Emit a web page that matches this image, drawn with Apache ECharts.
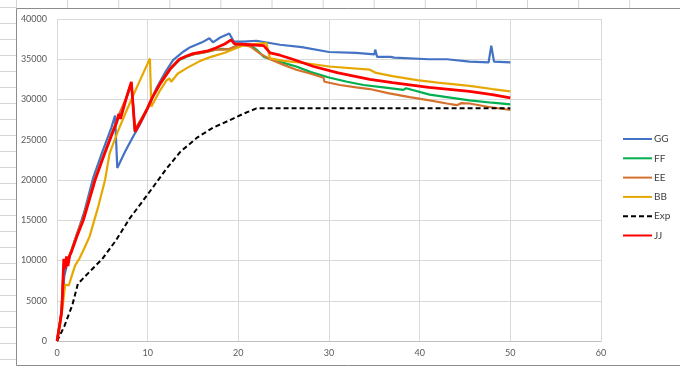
<!DOCTYPE html>
<html><head><meta charset="utf-8">
<script src="https://cdn.jsdelivr.net/npm/echarts@6/dist/echarts.min.js"></script>
<style>html,body{margin:0;padding:0;background:#fff}#c{width:680px;height:367px}</style>
</head><body><div id="c"></div>
<script>
const seriesNames = ["GG","FF","EE","BB","Exp","JJ"];
const xTicks = [0,10,20,30,40,50,60];
const yTicks = [0,5000,10000,15000,20000,25000,30000,35000,40000];

const GG = [[0,0],[0.5,3500],[0.8,8000],[1.2,10000],[2,12600],[3,16000],[4,20300],[5,23500],[6,26500],[6.4,28000],[6.65,21500],[7.5,23500],[8.4,25400],[9.2,27000],[10,28900],[11,31500],[12,33500],[12.8,34900],[14,36000],[14.7,36500],[16,37100],[16.8,37600],[17.2,37100],[18,37700],[19,38200],[19.2,38000],[19.5,37200],[20.5,37200],[22,37300],[24.6,36800],[27,36500],[30,35900],[33,35800],[35,35600],[35.1,36200],[35.3,35300],[36.8,35300],[37,35500],[37.2,35200],[41,35000],[43,35000],[45.5,34700],[47.6,34600],[47.9,36700],[48.2,34700],[50,34600]];
const FF = [[0,0],[0.3,2100],[0.5,3600],[0.7,8500],[0.9,9800],[1.2,10000],[1.6,11200],[2.2,13200],[2.9,15200],[3.5,17500],[4.2,20100],[5,22600],[6,25600],[6.6,27300],[6.9,28000],[7.6,30000],[8.2,32000],[8.6,26100],[9.2,27300],[9.9,28700],[10.5,30200],[11.4,32000],[12.5,33800],[13.5,34900],[14.3,35300],[15,35600],[16.5,35900],[17.5,36200],[18.3,36300],[19,36200],[20.2,36900],[21.3,36800],[22,36200],[22.8,35300],[24.5,34700],[26.4,34100],[28,33400],[30.1,32700],[32,32200],[33.8,31800],[36,31500],[38.2,31200],[38.5,31400],[41.1,30600],[43,30300],[45.5,29900],[48,29600],[50,29400]];
const EE = [[0,0],[0.3,2200],[0.5,3700],[0.7,8600],[0.9,9900],[1.2,10100],[1.6,11300],[2.2,13300],[2.9,15300],[3.5,17600],[4.2,20200],[5,22700],[6,25700],[6.6,27400],[6.9,28300],[7.6,30100],[8.2,32100],[8.6,26300],[9.2,27400],[9.9,28800],[10.5,30300],[11.4,32100],[12.5,33900],[13.5,35000],[14.3,35400],[15,35600],[16.5,35900],[17.5,36200],[18.3,36200],[19,36300],[20.2,36800],[21.3,36600],[22.4,35700],[23.5,35000],[25,34300],[26.4,33700],[28,33200],[29.4,32700],[29.5,32200],[31.2,31800],[33,31500],[34.5,31300],[36.5,30800],[38.9,30300],[41.1,29900],[43,29500],[44.1,29300],[44.6,29550],[45.5,29500],[47.5,29100],[50,28700]];
const BB = [[0,0],[0.4,2500],[0.7,5000],[0.9,7000],[1.1,7100],[1.3,6900],[1.6,8000],[2,9400],[2.5,10300],[3,11500],[3.6,13000],[4.5,16500],[5.3,20000],[5.8,23300],[6.7,26000],[7.7,28700],[9,32000],[10.25,35100],[10.4,29100],[10.6,28900],[11.3,31000],[12.1,32400],[12.4,32600],[12.6,32200],[13.3,33200],[14.3,33900],[15.8,34800],[17,35300],[18.5,35800],[19.4,36200],[20.5,36700],[22,36900],[23.1,37000],[23.5,35100],[25,34800],[27.5,34500],[30,34100],[34.5,33700],[35.2,33300],[37,32900],[39.7,32400],[42,32100],[45.5,31700],[48,31300],[50,31000]];
const Exp = [[0,0],[0.8,1800],[1.7,4500],[2.3,7100],[3.5,8500],[5,10200],[6.5,12500],[8,15200],[10,18200],[12,21300],[13.6,23500],[15.5,25300],[17.2,26500],[19,27400],[20.5,28200],[22,28900],[50,28900]];
const JJ = [[0,0],[0.3,2000],[0.5,3500],[0.6,5500],[0.7,8800],[0.75,10200],[0.9,9000],[1.05,10500],[1.2,9300],[1.4,10600],[1.6,11100],[2.2,13000],[2.9,15000],[3.5,17300],[4.2,20000],[5,22500],[6,25500],[6.6,27200],[6.8,28200],[7.0,27600],[7.6,30000],[8.2,32200],[8.6,26000],[9.2,27200],[9.9,28700],[10.5,30200],[11.4,32000],[12.5,33800],[13.5,35000],[14.3,35400],[15,35700],[16.5,36000],[17.5,36400],[18.5,36900],[19.2,37400],[19.6,36900],[21.3,36800],[22.8,36700],[23.5,35800],[24.6,35500],[26,35000],[28.3,34100],[31,33300],[34.5,32500],[37,32100],[41,31500],[45.5,31000],[48,30600],[50,30200]];

const dataSets = [GG,FF,EE,BB,Exp,JJ];
const colors = ["#4472C4","#00B050","#D4722E","#E6A800","#000000","#FF0000"];
const widths = [2.2,2.2,2.2,2.2,2,2.8];

// spreadsheet background lines
const bg = [];
for (let i=0;i<14;i++){ const x=16.5+i*51.1; bg.push({type:'line',shape:{x1:x,y1:0,x2:x,y2:8},style:{stroke:'#D4D4D4',lineWidth:1},silent:true}); }
for (let i=0;i<23;i++){ const y=7.5+i*16; bg.push({type:'line',shape:{x1:0,y1:y,x2:16,y2:y},style:{stroke:'#D4D4D4',lineWidth:1},silent:true}); }
bg.push({type:'rect',shape:{x:16.5,y:8.5,width:700,height:357},style:{fill:'none',stroke:'#8C8C8C',lineWidth:1},silent:true,z:-1});

const chart = echarts.init(document.getElementById('c'));
chart.setOption({
  animation:false,
  backgroundColor:'#fff',
  graphic: bg,
  grid:{left:57,right:79,top:19,bottom:26,containLabel:false},
  legend:{
    orient:'vertical', left:622, top:134, padding:0, itemWidth:29, itemHeight:10, itemGap:9.3,
    itemStyle:{opacity:0},
    textStyle:{fontFamily:'Lato',fontSize:10,color:'#404040',padding:[0,0,0,-3]},
    data: seriesNames
  },
  xAxis:{type:'value',min:0,max:60,interval:10,
    axisLine:{show:true,lineStyle:{color:'#BFBFBF',width:1}},
    axisTick:{show:false},
    splitLine:{show:true,lineStyle:{color:'#D9D9D9',width:1}},
    axisLabel:{color:'#595959',fontFamily:'Lato',fontSize:9,margin:8,
      formatter:v=>xTicks.includes(v)?String(v):''}
  },
  yAxis:{type:'value',min:0,max:40000,interval:5000,
    axisLine:{show:false},axisTick:{show:false},
    splitLine:{show:true,lineStyle:{color:'#D9D9D9',width:1}},
    axisLabel:{color:'#595959',fontFamily:'Lato',fontSize:9,margin:10,
      formatter:v=>yTicks.includes(v)?String(v):''}
  },
  series: seriesNames.map((n,i)=>({
    name:n,type:'line',data:dataSets[i],symbol:'none',showSymbol:false,
    color:colors[i],
    lineStyle:{color:colors[i],width:widths[i],type:n==='Exp'?[5,3]:'solid'},
    z:2+i
  }))
});
</script></body></html>
